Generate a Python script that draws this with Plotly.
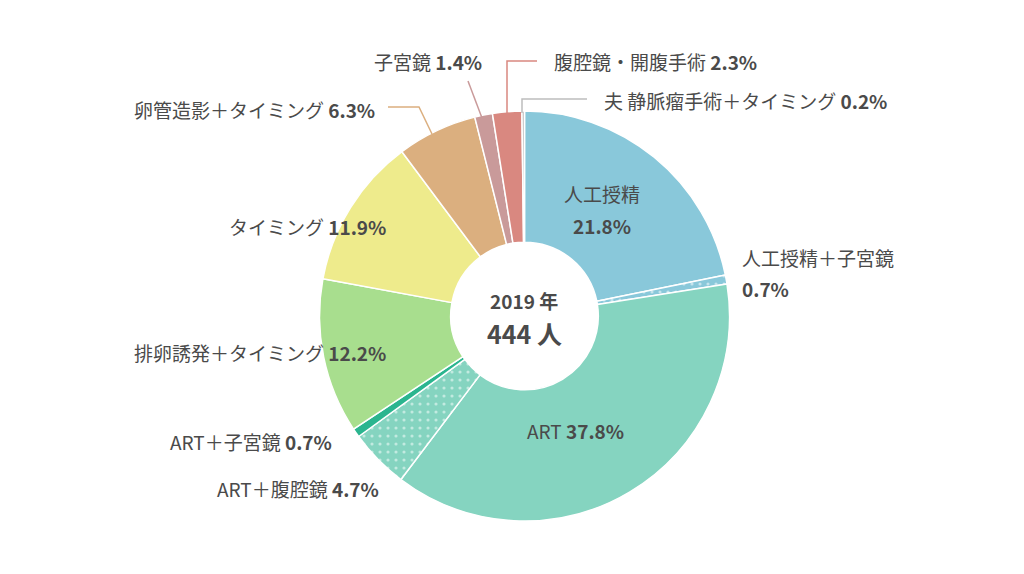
import plotly.graph_objects as go

# ---- data ----
categories = [
    "人工授精", "人工授精＋子宮鏡", "ART", "ART＋腹腔鏡", "ART＋子宮鏡",
    "排卵誘発＋タイミング", "タイミング", "卵管造影＋タイミング", "子宮鏡",
    "腹腔鏡・開腹手術", "夫 静脈瘤手術＋タイミング",
]
values = [21.8, 0.7, 37.8, 4.7, 0.7, 12.2, 11.9, 6.3, 1.4, 2.3, 0.2]
colors = ["#89C8DA", "#89C8DA", "#85D4C0", "#85D4C0", "#2BB58F",
          "#A8DE8E", "#EEEB8C", "#DBAF7F", "#C99A9A", "#D98880", "#BDBDBD"]
patterns = ["", ".", "", ".", "", "", "", "", "", "", ""]
center_year = "2019 年"
center_total = "444 人"

W, H = 1024, 574
OFF = 8  # page body margin compensation
TXT = "#4a4a4a"
FONT = "Noto Sans CJK JP"


def px(x, y):
    return (x - OFF) / W, 1 - (y - OFF) / H


fig = go.Figure()
x0, y0 = px(319.5, 521)
x1, y1 = px(729.5, 111)
fig.add_trace(go.Pie(
    labels=categories, values=values, sort=False, direction="clockwise",
    rotation=0, hole=0.36, textinfo="none", hoverinfo="label+percent",
    marker=dict(colors=colors, line=dict(color="white", width=1.5),
                pattern=dict(shape=patterns, fgcolor="white", size=8,
                             solidity=0.12, fillmode="overlay")),
    domain=dict(x=[x0, x1], y=[y0, y1]),
    showlegend=False,
))


def label(x, y, text, anchor="left", size=19):
    ax, ay = px(x, y)
    fig.add_annotation(x=ax, y=ay, xref="paper", yref="paper", text=text,
                       showarrow=False, xanchor=anchor, yanchor="middle",
                       font=dict(family=FONT, size=size, color=TXT))


def pct(v):
    return f"<b>{v}%</b>"


# inside labels
label(602, 193, categories[0], "center")
label(602, 225, pct(values[0]), "center")
label(575, 430, f"{categories[2]} {pct(values[2])}", "center")
# right side
label(740, 257, categories[1], "left")
label(740, 288, pct(values[1]), "left")
label(602, 100, f"{categories[10]} {pct(values[10])}", "left")
label(552, 61, f"{categories[9]} {pct(values[9])}", "left")
# left side
label(484, 61, f"{categories[8]} {pct(values[8])}", "right")
label(377, 110, f"{categories[7]} {pct(values[7])}", "right")
label(388, 227, f"{categories[6]} {pct(values[6])}", "right")
label(388, 353, f"{categories[5]} {pct(values[5])}", "right")
label(334, 441, f"{categories[4]} {pct(values[4])}", "right")
label(381, 488, f"{categories[3]} {pct(values[3])}", "right")
# center
label(524, 300, f"<b>{center_year}</b>", "center", 19)
label(524, 333, f"<b>{center_total}</b>", "center", 25)


def leader(points, color):
    path = ""
    for i, (x, y) in enumerate(points):
        ax, ay = px(x, y)
        path += ("M" if i == 0 else "L") + f"{ax},{ay} "
    fig.add_shape(type="path", xref="paper", yref="paper", path=path,
                  line=dict(color=color, width=1.5))


leader([(388, 107), (419, 107), (432, 134)], colors[7])
leader([(468, 81), (482, 118)], colors[8])
leader([(537, 61), (507, 61), (507, 113)], colors[9])
leader([(587, 99), (522, 99), (522, 113)], "#BDBDBD")

fig.update_layout(width=W, height=H, margin=dict(l=0, r=0, t=0, b=0),
                  paper_bgcolor="white", plot_bgcolor="white")
fig.write_html("out.html")
